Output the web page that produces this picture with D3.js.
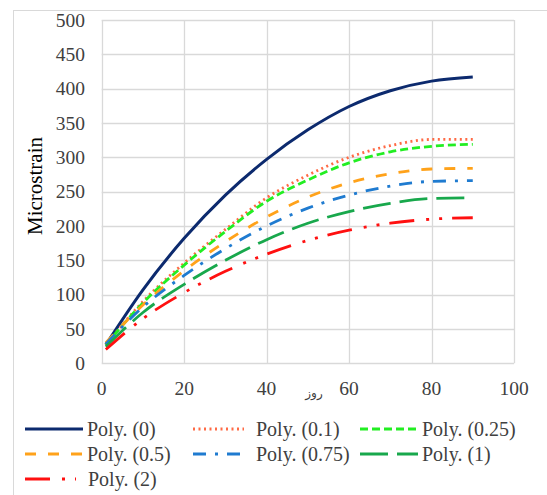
<!DOCTYPE html>
<html>
<head>
<meta charset="utf-8">
<script src="https://cdn.jsdelivr.net/npm/d3@7"></script>
<style>
  body { margin: 0; background: #fff; }
</style>
</head>
<body>
<script>
// days sampled along the trend lines
var days = [1, 10, 20, 30, 40, 50, 60, 70, 80, 90];

var poly0   = [27, 107, 182, 245, 297, 340, 374, 397, 411, 417];
var poly01  = [27, 90, 146, 195, 241, 274, 300, 317, 326, 326];
var poly025 = [27, 88, 143, 192, 236, 267, 292, 308, 316, 319];
var poly05  = [30, 85, 135, 177, 213, 242, 263, 276, 283, 284];
var poly075 = [28, 82, 128, 167, 200, 226, 245, 258, 265, 266];
var poly1   = [24, 74, 115, 150, 180, 204, 221, 233, 240, 241];
var poly2   = [20, 65, 103, 134, 159, 179, 194, 204, 210, 212];

var seriesNames = ["Poly. (0)", "Poly. (0.1)", "Poly. (0.25)", "Poly. (0.5)", "Poly. (0.75)", "Poly. (1)", "Poly. (2)"];
var seriesValues = [poly0, poly01, poly025, poly05, poly075, poly1, poly2];
var seriesColors = ["#0c2a6e", "#ff6a45", "#22ee22", "#ffa21a", "#1f7bd0", "#18a84c", "#ff1010"];
var seriesDash = ["none", "2,3.5", "8,4", "11,12", "13,9,3,9", "28,9", "25,12,3,10,3,10"];

var yTicks = [0, 50, 100, 150, 200, 250, 300, 350, 400, 450, 500];
var xTicks = [0, 20, 40, 60, 80, 100];

var FONT = "'Liberation Serif', 'Times New Roman', serif";

var W = 547, H = 495;
var svg = d3.select("body").append("svg")
  .attr("width", W)
  .attr("height", H)
  .attr("font-family", FONT);

// outer chart frame
svg.append("rect")
  .attr("x", 13.5).attr("y", 10.5)
  .attr("width", 560).attr("height", 520)
  .attr("fill", "none")
  .attr("stroke", "#d9d9d9");

var x = d3.scaleLinear().domain([0, 100]).range([101.7, 514]),
    y = d3.scaleLinear().domain([0, 500]).range([363.3, 20]);

// grid
svg.append("g").selectAll("line")
  .data(yTicks)
  .enter().append("line")
    .attr("x1", x(0)).attr("x2", x(100))
    .attr("y1", function (d) { return Math.round(y(d)) + 0.5; })
    .attr("y2", function (d) { return Math.round(y(d)) + 0.5; })
    .attr("stroke", "#d9d9d9").attr("stroke-width", 1.3);

svg.append("g").selectAll("line")
  .data(xTicks)
  .enter().append("line")
    .attr("x1", function (d) { return Math.round(x(d)) + 0.5; })
    .attr("x2", function (d) { return Math.round(x(d)) + 0.5; })
    .attr("y1", y(0)).attr("y2", y(500))
    .attr("stroke", "#d9d9d9").attr("stroke-width", 1.3);

// tick labels
svg.append("g").selectAll("text")
  .data(yTicks)
  .enter().append("text")
    .attr("x", 85)
    .attr("y", function (d) { return y(d); })
    .attr("dy", "0.35em")
    .attr("text-anchor", "end")
    .attr("font-size", 19.5)
    .attr("fill", "#404040")
    .text(function (d) { return d; });

svg.append("g").selectAll("text")
  .data(xTicks)
  .enter().append("text")
    .attr("x", function (d) { return x(d); })
    .attr("y", 388)
    .attr("dy", "0.35em")
    .attr("text-anchor", "middle")
    .attr("font-size", 19.5)
    .attr("fill", "#404040")
    .text(function (d) { return d; });

// axis titles
svg.append("text")
  .attr("transform", "translate(42,186) rotate(-90)")
  .attr("text-anchor", "middle")
  .attr("font-size", 21)
  .attr("fill", "#000")
  .text("Microstrain");

svg.append("text")
  .attr("x", 314).attr("y", 397)
  .attr("text-anchor", "middle")
  .attr("font-family", "DejaVu Sans")
  .attr("font-size", 12)
  .attr("fill", "#404040")
  .text("روز");

// trend lines
var line = d3.line()
  .x(function (d, i) { return x(days[i]); })
  .y(function (d) { return y(d); })
  .curve(d3.curveMonotoneX);

svg.append("g").selectAll("path")
  .data(seriesValues)
  .enter().append("path")
    .attr("d", line)
    .attr("fill", "none")
    .attr("stroke", function (d, i) { return seriesColors[i]; })
    .attr("stroke-width", function (d, i) { return i === 0 ? 3 : 2.8; })
    .attr("stroke-dasharray", function (d, i) { return seriesDash[i]; });

// legend
var legendPos = [[25, 429], [193, 429], [360, 429], [25, 454], [193, 454], [360, 454], [25, 479]];
var textPos = [62, 63, 62, 62, 63, 62, 63];

var legend = svg.append("g").selectAll("g")
  .data(seriesNames)
  .enter().append("g")
    .attr("transform", function (d, i) { return "translate(" + legendPos[i][0] + "," + legendPos[i][1] + ")"; });

legend.append("line")
  .attr("x1", 0).attr("x2", function (d, i) { return (i === 1 || i === 4 || i === 6) ? 51 : 58; })
  .attr("y1", 0).attr("y2", 0)
  .attr("stroke", function (d, i) { return seriesColors[i]; })
  .attr("stroke-width", 3)
  .attr("stroke-dasharray", function (d, i) { return seriesDash[i]; });

legend.append("text")
  .attr("x", function (d, i) { return textPos[i]; })
  .attr("y", 0)
  .attr("dy", "0.35em")
  .attr("font-size", 20)
  .attr("fill", "#404040")
  .text(function (d) { return d; });
</script>
</body>
</html>
